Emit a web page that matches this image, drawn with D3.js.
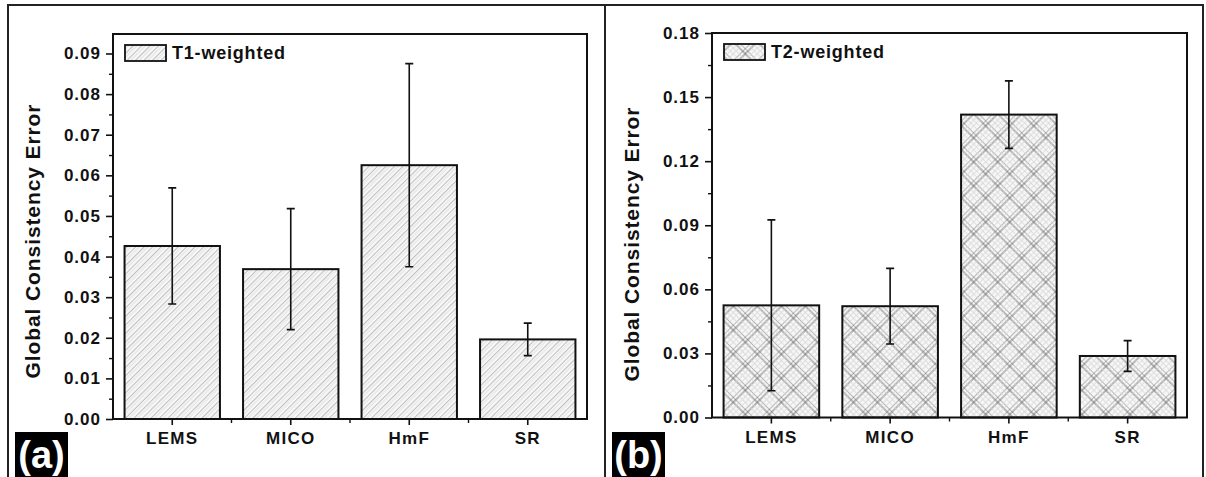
<!DOCTYPE html>
<meta charset="utf-8">
<style type="text/css">
body { margin: 0; background: #fff; }
svg text { font-family: "Liberation Sans", Arial, sans-serif; font-weight: bold; fill: #111; }
.tick-label { font-size: 17px; letter-spacing: 1px; }
.cat-label { font-size: 17px; letter-spacing: 1.3px; }
.y-title { font-size: 21px; letter-spacing: 0.9px; }
.legend-text { font-size: 18px; letter-spacing: 0.8px; }
.panel-tag { font-size: 38px; fill: #fff; letter-spacing: 0px; }
.frame { fill: none; stroke: #222; stroke-width: 2; }
.bar { stroke: #111; stroke-width: 2; }
.err { stroke: #111; stroke-width: 1.6; fill: none; }
</style>
<body>
<div id="chart"></div>
<script src="https://d3js.org/d3.v7.min.js"></script>
<script>
// values
var categories = ["LEMS", "MICO", "HmF", "SR"];

var t1Mean = [0.0426, 0.0369, 0.0625, 0.0196];
var t1Sd   = [0.0143, 0.0149, 0.0250, 0.0040];
var t1Ticks = [0.00, 0.01, 0.02, 0.03, 0.04, 0.05, 0.06, 0.07, 0.08, 0.09];

var t2Mean = [0.0525, 0.0521, 0.1418, 0.0288];
var t2Sd   = [0.0400, 0.0177, 0.0158, 0.0072];
var t2Ticks = [0.00, 0.03, 0.06, 0.09, 0.12, 0.15, 0.18];

var W = 1206, H = 477;

var svg = d3.select("#chart").append("svg")
    .attr("width", W)
    .attr("height", H);

var defs = svg.append("defs");

// single hatch (///) for the T1 bars
var p1 = defs.append("pattern")
    .attr("id", "hatch1")
    .attr("patternUnits", "userSpaceOnUse")
    .attr("width", 6).attr("height", 6)
    .attr("patternTransform", "rotate(45)");
p1.append("rect").attr("width", 6).attr("height", 6).attr("fill", "#f7f7f7");
p1.append("line").attr("x1", 0).attr("y1", 0).attr("x2", 0).attr("y2", 6)
    .attr("stroke", "#858585").attr("stroke-width", 1);
p1.append("line").attr("x1", 3).attr("y1", 0).attr("x2", 3).attr("y2", 6)
    .attr("stroke", "#d8d8d8").attr("stroke-width", 0.8);

// cross hatch for the T2 bars
var p2 = defs.append("pattern")
    .attr("id", "hatch2")
    .attr("patternUnits", "userSpaceOnUse")
    .attr("width", 17).attr("height", 17)
    .attr("patternTransform", "rotate(45)");
p2.append("rect").attr("width", 17).attr("height", 17).attr("fill", "#f6f6f6");
[0, 4].forEach(function(o) {
  p2.append("line").attr("x1", o).attr("y1", 0).attr("x2", o).attr("y2", 17)
      .attr("stroke", "#6a6a6a").attr("stroke-width", 0.9);
  p2.append("line").attr("x1", 0).attr("y1", o).attr("x2", 17).attr("y2", o)
      .attr("stroke", "#6a6a6a").attr("stroke-width", 0.9);
});
[8.5, 12.5].forEach(function(o) {
  p2.append("line").attr("x1", o).attr("y1", 0).attr("x2", o).attr("y2", 17)
      .attr("stroke", "#d6d6d6").attr("stroke-width", 0.7);
  p2.append("line").attr("x1", 0).attr("y1", o).attr("x2", 17).attr("y2", o)
      .attr("stroke", "#d6d6d6").attr("stroke-width", 0.7);
});

// outer frame and divider between the two panels
svg.append("path")
    .attr("class", "frame")
    .attr("d", "M8," + (H + 2) + "V5H1203V" + (H + 2) + "M605,5V" + (H + 2));

function drawPanel(cfg) {
  var x = d3.scaleBand()
      .domain(categories)
      .range([cfg.left, cfg.right])
      .paddingInner(0.195)
      .paddingOuter(0.0975);

  var y = d3.scaleLinear()
      .domain([0, cfg.yMax])
      .range([cfg.bottom, cfg.top]);

  var data = categories.map(function(c, i) {
    return { name: c, mean: cfg.mean[i], sd: cfg.sd[i] };
  });

  var g = svg.append("g");

  // bars
  g.selectAll(".bar")
      .data(data)
    .enter().append("rect")
      .attr("class", "bar")
      .attr("x", function(d) { return x(d.name); })
      .attr("y", function(d) { return y(d.mean); })
      .attr("width", x.bandwidth())
      .attr("height", function(d) { return y(0) - y(d.mean); })
      .attr("fill", "url(#" + cfg.pattern + ")");

  // error bars
  g.selectAll(".err")
      .data(data)
    .enter().append("path")
      .attr("class", "err")
      .attr("d", function(d) {
        var cx = x(d.name) + x.bandwidth() / 2;
        var y1 = y(d.mean + d.sd), y0 = y(d.mean - d.sd);
        return "M" + cx + "," + y1 + "V" + y0 +
               "M" + (cx - 4) + "," + y1 + "H" + (cx + 4) +
               "M" + (cx - 4) + "," + y0 + "H" + (cx + 4);
      });

  // plot box
  g.append("rect")
      .attr("x", cfg.left).attr("y", cfg.top)
      .attr("width", cfg.right - cfg.left)
      .attr("height", cfg.bottom - cfg.top)
      .attr("fill", "none")
      .attr("stroke", "#111")
      .attr("stroke-width", 2);

  // y axis, major and minor ticks
  var step = cfg.ticks[1] - cfg.ticks[0];
  var minor = cfg.ticks.map(function(t) { return t + step / 2; })
      .filter(function(t) { return t < cfg.yMax; });

  var yAxis = g.append("g")
      .attr("transform", "translate(" + cfg.left + ",0)")
      .call(d3.axisLeft(y).tickValues(cfg.ticks).tickSize(7).tickPadding(5)
            .tickFormat(d3.format(".2f")));
  yAxis.select(".domain").remove();
  yAxis.selectAll("line").attr("stroke", "#111").attr("stroke-width", 1.6);
  yAxis.selectAll("text").attr("class", "tick-label")
      .attr("font-size", null).attr("font-family", null).attr("fill", null);

  g.append("g")
      .attr("transform", "translate(" + cfg.left + ",0)")
      .call(d3.axisLeft(y).tickValues(minor).tickSize(4).tickFormat(""))
    .call(function(s) {
      s.select(".domain").remove();
      s.selectAll("line").attr("stroke", "#111").attr("stroke-width", 1.4);
    });

  // x axis: ticks at categories, minor ticks between
  var xAxis = g.append("g")
      .attr("transform", "translate(0," + cfg.bottom + ")")
      .call(d3.axisBottom(x).tickSize(6).tickPadding(7));
  xAxis.select(".domain").remove();
  xAxis.selectAll("line").attr("stroke", "#111").attr("stroke-width", 1.6);
  xAxis.selectAll("text").attr("class", "cat-label")
      .attr("font-size", null).attr("font-family", null).attr("fill", null);

  var mids = categories.slice(1).map(function(c) {
    return x(c) - x.step() * x.paddingInner() / 2;
  });
  g.selectAll(".xminor")
      .data(mids)
    .enter().append("line")
      .attr("x1", function(d) { return d; })
      .attr("x2", function(d) { return d; })
      .attr("y1", cfg.bottom)
      .attr("y2", cfg.bottom + 4)
      .attr("stroke", "#111")
      .attr("stroke-width", 1.4);

  // y title
  g.append("text")
      .attr("class", "y-title")
      .attr("transform", "translate(" + cfg.titleX + "," + cfg.titleY + ") rotate(-90)")
      .attr("text-anchor", "middle")
      .text("Global Consistency Error");

  // legend
  g.append("rect")
      .attr("x", cfg.left + 12).attr("y", cfg.top + 11)
      .attr("width", 41).attr("height", 16)
      .attr("fill", "url(#" + cfg.pattern + ")")
      .attr("stroke", "#111").attr("stroke-width", 1.8);
  g.append("text")
      .attr("class", "legend-text")
      .attr("x", cfg.left + 59).attr("y", cfg.top + 25)
      .text(cfg.legend);

  // panel tag
  g.append("rect")
      .attr("x", cfg.tagX).attr("y", 432)
      .attr("width", 53).attr("height", 45)
      .attr("fill", "#000");
  g.append("text")
      .attr("class", "panel-tag")
      .attr("x", cfg.tagX + 26.5).attr("y", 468)
      .attr("text-anchor", "middle")
      .text(cfg.tag);
}

drawPanel({
  left: 113, right: 587, top: 34, bottom: 419,
  yMax: 0.0948, ticks: t1Ticks, mean: t1Mean, sd: t1Sd,
  pattern: "hatch1", legend: "T1-weighted", tag: "(a)",
  titleX: 40, titleY: 241, tagX: 15
});

drawPanel({
  left: 712, right: 1187, top: 33, bottom: 417.5,
  yMax: 0.18, ticks: t2Ticks, mean: t2Mean, sd: t2Sd,
  pattern: "hatch2", legend: "T2-weighted", tag: "(b)",
  titleX: 639, titleY: 244, tagX: 612
});
</script>
</body>
